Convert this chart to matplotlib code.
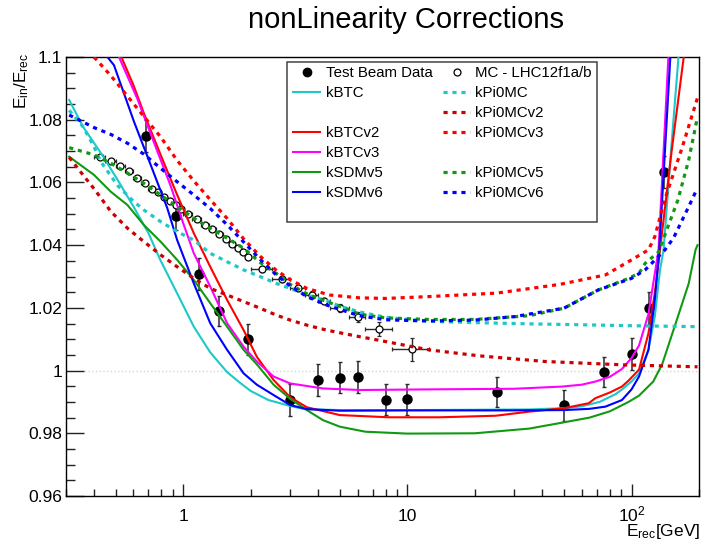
import matplotlib
matplotlib.use("Agg")
import matplotlib.pyplot as plt
from matplotlib.lines import Line2D
from matplotlib.patches import Rectangle
from matplotlib.ticker import FixedFormatter, FixedLocator, LogLocator, MultipleLocator, NullFormatter

plt.rcParams["font.family"] = ["Liberation Sans", "DejaVu Sans"]
plt.rcParams["mathtext.fontset"] = "custom"
plt.rcParams["mathtext.rm"] = "Liberation Sans"
plt.rcParams["mathtext.it"] = "Liberation Sans:italic"
plt.rcParams["mathtext.bf"] = "Liberation Sans:bold"

# test beam measurements
tb_energy = [0.68, 0.93, 1.18, 1.45, 1.95, 3.0, 4.0, 5.0, 6.0, 8.0, 10.0, 25.0, 50.0, 75.0, 100.0, 120.0, 140.0]
tb_ratio = [1.0748, 1.0494, 1.0308, 1.0190, 1.0100, 0.9906, 0.9970, 0.9977, 0.9980, 0.9907, 0.9908,
            0.9933, 0.9889, 0.9995, 1.0053, 1.0199, 1.0633]
tb_err = [0.0050, 0.0045, 0.0052, 0.0049, 0.0050, 0.0050, 0.0052, 0.0050, 0.0050, 0.0050, 0.0050,
          0.0048, 0.0050, 0.0048, 0.0050, 0.0050, 0.0050]

# MC - LHC12f1a/b
mc_energy = [0.425, 0.475, 0.525, 0.575, 0.625, 0.675, 0.725, 0.775, 0.825, 0.875, 0.925, 0.975,
             1.05, 1.15, 1.25, 1.35, 1.45, 1.55, 1.65, 1.75, 1.85, 1.95, 2.25, 2.75, 3.25, 3.75, 4.25,
             5.0, 6.0, 7.5, 10.5]
mc_ratio = [1.0682, 1.0669, 1.0653, 1.0635, 1.0615, 1.0597, 1.0578, 1.0568, 1.0555, 1.0542, 1.0528, 1.0514,
            1.0498, 1.0482, 1.0465, 1.0450, 1.0436, 1.0420, 1.0405, 1.0390, 1.0377, 1.0362, 1.0323, 1.0292,
            1.0264, 1.0242, 1.0222, 1.0199, 1.0170, 1.0133, 1.0068]
mc_xerr = [0.025] * 12 + [0.05] * 10 + [0.25] * 5 + [0.5, 0.5, 1.0, 2.0]
mc_yerr = [0.0004] * 12 + [0.0006] * 10 + [0.0008, 0.0009, 0.0010, 0.0011, 0.0011, 0.0012, 0.0016, 0.0022, 0.0037]

# parametrisations
kbtc_e = [0.31, 0.357, 0.43, 0.51, 0.60, 0.70, 0.79, 0.94, 1.115, 1.32, 1.57, 1.80, 2.0, 2.4, 3.0, 3.5, 5.0,
          10, 20, 35, 50, 60, 72, 85, 90, 100, 108, 119, 127, 134, 139, 150, 162]
kbtc_r = [1.0863, 1.0778, 1.0693, 1.0608, 1.0523, 1.0438, 1.0353, 1.0246, 1.0140, 1.0058, 0.9995, 0.9960,
          0.9935, 0.9906, 0.9887, 0.9877, 0.9874, 0.9874, 0.9875, 0.9876, 0.9880, 0.9886, 0.9900, 0.9925,
          0.9938, 0.9965, 0.9991, 1.0066, 1.0172, 1.0321, 1.0385, 1.0700, 1.1000]

kbtcv2_e = [0.53, 0.60, 0.668, 0.793, 0.94, 1.115, 1.32, 1.57, 1.86, 2.13, 2.53, 3.0, 3.56, 5.0, 8.3, 13.9,
            24.8, 34.9, 50, 64.5, 69, 80, 90.6, 97, 108, 119, 127, 134, 151, 171]
kbtcv2_r = [1.1, 1.091, 1.082, 1.0688, 1.056, 1.0438, 1.0331, 1.0225, 1.0129, 1.0044, 0.9970, 0.9915,
            0.9883, 0.9858, 0.9851, 0.9851, 0.9856, 0.9869, 0.9880, 0.9896, 0.9912, 0.9930, 0.9949, 0.9968,
            1.0003, 1.0119, 1.0247, 1.0385, 1.0700, 1.1]

kbtcv3_e = [0.517, 0.625, 0.74, 0.878, 1.0, 1.115, 1.32, 1.57, 1.86, 2.13, 2.53, 3.0, 4.2, 6.13, 12.5, 30,
            49, 60, 69, 80, 90.6, 100, 108, 119, 125, 132, 146]
kbtcv3_r = [1.1, 1.0866, 1.0728, 1.059, 1.047, 1.0374, 1.0268, 1.0151, 1.0076, 1.0029, 0.9981, 0.9959,
            0.9943, 0.9938, 0.9940, 0.9942, 0.9949, 0.9955, 0.9965, 0.9980, 1.0005, 1.0040, 1.0080, 1.0180,
            1.0278, 1.0385, 1.1]

ksdmv5_e = [0.31, 0.40, 0.476, 0.564, 0.668, 0.793, 0.94, 1.115, 1.32, 1.57, 1.86, 2.13, 2.53, 3.0, 3.56,
            4.2, 5.0, 6.5, 10, 20, 35, 50, 65, 80, 97, 108, 125, 137, 161, 180, 193, 197]
ksdmv5_r = [1.0682, 1.0624, 1.057, 1.0528, 1.0464, 1.0411, 1.0353, 1.0289, 1.0215, 1.014, 1.0066, 1.002,
            0.9955, 0.991, 0.9874, 0.9842, 0.9821, 0.9805, 0.9799, 0.9800, 0.9815, 0.9835, 0.9850, 0.9870,
            0.9900, 0.9920, 0.9965, 1.0020, 1.0172, 1.0278, 1.0385, 1.0400]

ksdmv6_e = [0.459, 0.491, 0.603, 0.716, 0.849, 0.94, 1.115, 1.32, 1.57, 1.86, 2.13, 2.53, 3.0, 3.56, 5.0,
            10, 30, 50, 65, 76.5, 90.6, 100, 108, 119, 127, 133, 149]
ksdmv6_r = [1.1, 1.0974, 1.0794, 1.0656, 1.0518, 1.0416, 1.0278, 1.0151, 1.0066, 0.9991, 0.9955, 0.9922,
            0.9890, 0.9877, 0.9872, 0.9873, 0.9873, 0.9874, 0.9878, 0.9885, 0.9906, 0.9940, 0.9981, 1.0066,
            1.0225, 1.0385, 1.1]

kpi0mc_e = [0.31, 0.357, 0.40, 0.43, 0.51, 0.60, 0.668, 0.793, 0.94, 1.115, 1.32, 1.57, 1.86, 2.2, 2.6, 3.0,
            3.6, 4.4, 5.0, 6.2, 8.0, 10, 14, 20, 35, 60, 100, 197]
kpi0mc_r = [1.083, 1.0778, 1.0714, 1.0665, 1.0590, 1.0540, 1.0512, 1.0475, 1.0443, 1.0416, 1.0374, 1.0347,
            1.0321, 1.0300, 1.0278, 1.0262, 1.0240, 1.0222, 1.0205, 1.0186, 1.0170, 1.0163, 1.0156, 1.0153,
            1.0149, 1.0146, 1.0143, 1.0140]

kpi0mcv2_e = [0.31, 0.357, 0.40, 0.476, 0.564, 0.668, 0.793, 0.94, 1.115, 1.32, 1.57, 1.86, 2.2, 2.6, 3.0,
              3.56, 4.36, 6.13, 7.3, 12.5, 20.9, 41, 94, 197]
kpi0mcv2_r = [1.068, 1.0624, 1.058, 1.0507, 1.0454, 1.0411, 1.0369, 1.0331, 1.0294, 1.0262, 1.0241, 1.0220,
              1.0199, 1.0177, 1.0161, 1.0145, 1.0129, 1.0108, 1.0098, 1.0066, 1.0047, 1.0029, 1.0018, 1.0012]

kpi0mcv3_e = [0.40, 0.476, 0.564, 0.668, 0.793, 0.94, 1.115, 1.32, 1.57, 1.86, 2.2, 2.6, 3.0, 3.56, 4.5, 6.1,
              8.0, 12.5, 25, 48, 76.5, 100, 119, 127, 141, 168, 197]
kpi0mcv3_r = [1.1, 1.094, 1.0875, 1.081, 1.0745, 1.067, 1.0605, 1.0545, 1.0485, 1.042, 1.0365, 1.032, 1.029,
              1.0262, 1.0241, 1.0232, 1.0230, 1.0236, 1.0247, 1.0275, 1.0305, 1.0353, 1.0385, 1.0427, 1.0547,
              1.0710, 1.0870]

kpi0mcv5_e = [0.31, 0.40, 0.476, 0.564, 0.668, 0.793, 0.94, 1.115, 1.32, 1.57, 1.86, 2.2, 2.6, 3.0, 3.56,
              4.36, 5.0, 6.1, 8.0, 12.5, 20, 35, 50, 71, 94, 108, 115, 132, 161, 180, 193, 197]
kpi0mcv5_r = [1.0711, 1.0688, 1.0661, 1.063, 1.0597, 1.056, 1.0523, 1.0486, 1.0454, 1.0422, 1.039, 1.0345,
              1.031, 1.0275, 1.0245, 1.022, 1.0205, 1.018, 1.0168, 1.0163, 1.0163, 1.0175, 1.0199, 1.0257,
              1.0290, 1.0310, 1.0342, 1.0378, 1.0544, 1.0672, 1.0778, 1.0810]

kpi0mcv6_e = [0.31, 0.40, 0.476, 0.564, 0.668, 0.793, 0.94, 1.115, 1.32, 1.57, 1.86, 2.2, 2.6, 3.0, 3.56,
              4.36, 5.0, 6.1, 8.0, 12.5, 20, 30, 50, 71, 100, 115, 123, 141, 154, 180, 195, 197]
kpi0mcv6_r = [1.0815, 1.0775, 1.0753, 1.0725, 1.069, 1.0645, 1.0602, 1.056, 1.0517, 1.0465, 1.041, 1.0355,
              1.0305, 1.027, 1.0236, 1.0209, 1.0195, 1.0175, 1.0162, 1.0158, 1.0161, 1.0172, 1.0199, 1.0257,
              1.0294, 1.0321, 1.0342, 1.0385, 1.0423, 1.0523, 1.0576, 1.0580]

CYAN = "#1ec8c8"
RED = "#ff0000"
DARK_RED = "#cc0000"
MAGENTA = "#ff00ff"
GREEN = "#119911"
BLUE = "#0000ff"

SOLID = dict(ls="-", lw=1.5)
DOTTED = dict(ls=(0, (1.3, 1.5)), lw=2.3)

CURVES = {
    "kBTC": (kbtc_e, kbtc_r, CYAN, SOLID),
    "kBTCv2": (kbtcv2_e, kbtcv2_r, RED, SOLID),
    "kBTCv3": (kbtcv3_e, kbtcv3_r, MAGENTA, SOLID),
    "kSDMv5": (ksdmv5_e, ksdmv5_r, GREEN, SOLID),
    "kSDMv6": (ksdmv6_e, ksdmv6_r, BLUE, SOLID),
    "kPi0MC": (kpi0mc_e, kpi0mc_r, CYAN, DOTTED),
    "kPi0MCv2": (kpi0mcv2_e, kpi0mcv2_r, DARK_RED, DOTTED),
    "kPi0MCv3": (kpi0mcv3_e, kpi0mcv3_r, RED, DOTTED),
    "kPi0MCv5": (kpi0mcv5_e, kpi0mcv5_r, GREEN, DOTTED),
    "kPi0MCv6": (kpi0mcv6_e, kpi0mcv6_r, BLUE, DOTTED),
}

# legend layout: two columns, None leaves a row empty
LEGEND_LEFT = ["Test Beam Data", "kBTC", None, "kBTCv2", "kBTCv3", "kSDMv5", "kSDMv6"]
LEGEND_RIGHT = ["MC - LHC12f1a/b", "kPi0MC", "kPi0MCv2", "kPi0MCv3", None, "kPi0MCv5", "kPi0MCv6"]


def draw_legend(ax):
    ax.add_patch(Rectangle((0.349, 0.624), 0.490, 0.365, transform=ax.transAxes, facecolor="white",
                           edgecolor="#444444", lw=1.1, zorder=10))
    columns = [(LEGEND_LEFT, 0.359, 0.401, 0.410), (LEGEND_RIGHT, 0.596, 0.638, 0.646)]
    for labels, x0, x1, xt in columns:
        for row, label in enumerate(labels):
            if label is None:
                continue
            y = 0.9665 - row * 0.0456
            if label == "Test Beam Data":
                ax.plot([(x0 + x1) / 2], [y], "o", color="black", ms=6, transform=ax.transAxes, zorder=11)
            elif label.startswith("MC"):
                ax.plot([(x0 + x1) / 2], [y], "o", mfc="white", mec="black", mew=0.9, ms=5,
                        transform=ax.transAxes, zorder=11)
            else:
                _, _, color, style = CURVES[label]
                ax.add_line(Line2D([x0, x1], [y, y], color=color, transform=ax.transAxes, zorder=11, **style))
            ax.text(xt, y, label, transform=ax.transAxes, ha="left", va="center_baseline",
                    fontsize=10.8, zorder=12)


def main() -> None:
    fig = plt.figure(figsize=(7.01, 5.42), dpi=100)
    ax = fig.add_axes([66 / 701, 46 / 542, 633 / 701, 439 / 542])

    ax.axhline(1.0, color="#d4d4d4", ls=":", lw=1.0, zorder=1)

    ax.errorbar(tb_energy, tb_ratio, yerr=tb_err, fmt="o", color="black", ms=6.5, ecolor="#2a2a2a",
                elinewidth=1.1, capsize=1.6, capthick=1.0, zorder=3)
    ax.errorbar(mc_energy, mc_ratio, xerr=mc_xerr, yerr=mc_yerr, fmt="o", mfc="white", mec="black",
                mew=0.9, ms=5, ecolor="#2a2a2a", elinewidth=1.0, capsize=1.5, capthick=1.0, zorder=3)

    for name, (energy, ratio, color, style) in CURVES.items():
        ax.plot(energy, ratio, color=color, zorder=4, **style)

    ax.set_xscale("log")
    ax.set_xlim(0.3, 200)
    ax.set_ylim(0.96, 1.1)

    ax.xaxis.set_major_locator(FixedLocator([1, 10, 100]))
    ax.xaxis.set_major_formatter(FixedFormatter(["1", "10", "$10^{2}$"]))
    ax.xaxis.set_minor_locator(LogLocator(base=10, subs=range(2, 10), numticks=20))
    ax.xaxis.set_minor_formatter(NullFormatter())
    ax.set_yticks([0.96, 0.98, 1.0, 1.02, 1.04, 1.06, 1.08, 1.1])
    ax.set_yticklabels(["0.96", "0.98", "1", "1.02", "1.04", "1.06", "1.08", "1.1"])
    ax.yaxis.set_minor_locator(MultipleLocator(0.005))

    ax.tick_params(which="both", direction="in", top=False, right=False, colors="#222222", width=1.0,
                   labelsize=12.5, labelcolor="black")
    ax.tick_params(axis="y", which="major", length=13, pad=2.6)
    ax.tick_params(axis="y", which="minor", length=6.5)
    ax.tick_params(axis="x", which="major", length=9, pad=18)
    ax.tick_params(axis="x", which="minor", length=4.8)
    # keep "1", "10" and "10^2" on one baseline
    for label in ax.get_xticklabels():
        label.set_verticalalignment("baseline")
    for spine in ax.spines.values():
        spine.set_linewidth(1.0)

    draw_legend(ax)

    fig.text(406 / 701, 1 - 28 / 542, "nonLinearity Corrections", ha="center", va="baseline", fontsize=21)
    fig.text(22 / 701, 1 - 53 / 542, r"$\mathrm{E_{in}/E_{rec}}$", rotation=90, ha="center", va="top",
             fontsize=12.3)
    fig.text(700 / 701, 1 - 536 / 542, r"$\mathrm{E_{rec}}$[GeV]", ha="right", va="baseline", fontsize=12.5)

    fig.savefig("out.png", dpi=100)
    plt.close(fig)


if __name__ == "__main__":
    main()
